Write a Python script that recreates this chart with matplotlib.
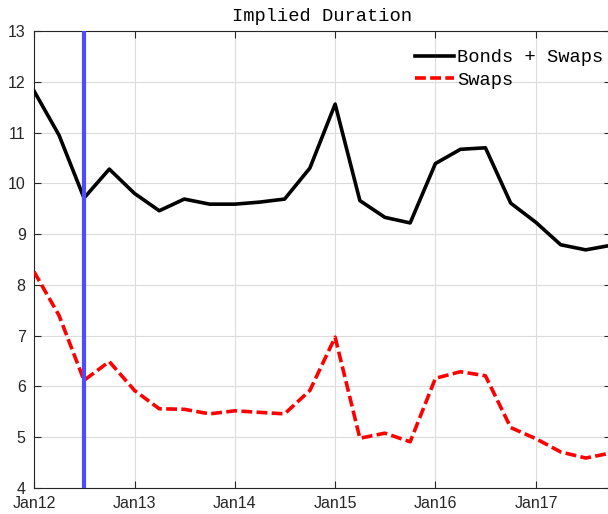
import numpy as np
import matplotlib.pyplot as plt
import matplotlib.dates as mdates
from datetime import date

# quarterly observations, Jan 2012 .. Oct 2017
dates = [date(y, m, 1) for y in range(2012, 2018) for m in (1, 4, 7, 10)]

bonds_swaps = [11.82, 10.95, 9.71, 10.28, 9.80, 9.46, 9.69, 9.59,
               9.59, 9.63, 9.69, 10.30, 11.56, 9.66, 9.33, 9.22,
               10.39, 10.67, 10.70, 9.61, 9.23, 8.79, 8.69, 8.78]
swaps = [8.26, 7.40, 6.12, 6.49, 5.92, 5.56, 5.55, 5.46,
         5.52, 5.49, 5.46, 5.92, 6.97, 4.98, 5.08, 4.91,
         6.16, 6.29, 6.21, 5.19, 4.97, 4.71, 4.59, 4.69]
event_date = date(2012, 7, 1)
xtick_dates = [date(y, 1, 1) for y in range(2012, 2018)]
xtick_labels = ["Jan12", "Jan13", "Jan14", "Jan15", "Jan16", "Jan17"]

W, H = 608, 514
fig = plt.figure(figsize=(W / 100, H / 100), dpi=100)
ax = fig.add_axes([34 / W, 1 - 488 / H, (611 - 34) / W, (488 - 31) / H])

ax.plot(dates, bonds_swaps, color="black", lw=2.6, label="Bonds + Swaps", zorder=3)
ax.plot(dates, swaps, color="red", lw=2.6, ls=(0, (3, 1.2)), label="Swaps", zorder=3)
ax.axvline(event_date, color=(0.3, 0.3, 1.0), lw=3, zorder=4)

ax.set_xlim(dates[0], dates[-1])
ax.set_ylim(4, 13)
ax.set_yticks(np.arange(4, 14, 1))
ax.set_xticks([mdates.date2num(d) for d in xtick_dates])
ax.set_xticklabels(xtick_labels)

ax.grid(True, color="#dcdcdc", lw=0.8)
ax.set_axisbelow(True)
ax.tick_params(direction="in", length=5, width=0.8, top=True, right=True,
               labelsize=11.5, colors="#262626", pad=6)
for lab in ax.get_xticklabels() + ax.get_yticklabels():
    lab.set_fontfamily("Liberation Sans")
for s in ax.spines.values():
    s.set_color("#262626")
    s.set_linewidth(0.8)

ax.set_title("Implied Duration", fontfamily="Liberation Mono", fontsize=13.5, pad=7)
leg = ax.legend(loc="upper left", bbox_to_anchor=(415 / W, 1 - 49 / H),
                bbox_transform=fig.transFigure, frameon=False,
                handlelength=2.1, handletextpad=0.15, labelspacing=0.3,
                borderpad=0, borderaxespad=0,
                prop={"family": "Liberation Mono", "size": 13.5})

fig.savefig("out.png", dpi=100)
